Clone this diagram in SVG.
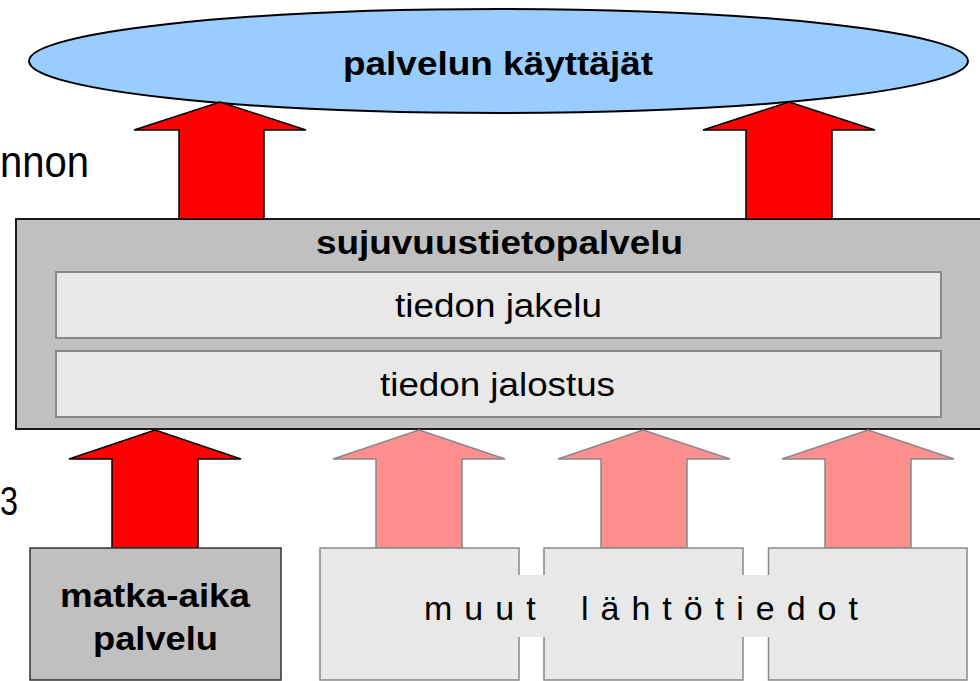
<svg xmlns="http://www.w3.org/2000/svg" width="980" height="681" viewBox="0 0 980 681">
<style>
text{font-family:"Liberation Sans",Arial,sans-serif;fill:#000}
.b{font-weight:bold}
.red{fill:#ff0000;stroke:#000;stroke-width:1.5}
.pink{fill:#ff8f8f;stroke:#888;stroke-width:1.5}
.inner{fill:#e8e8e8;stroke:#888;stroke-width:2}
.src{fill:#e8e8e8;stroke:#888;stroke-width:1.5}
</style>
<rect width="980" height="681" fill="#fff"/>
<text x="0" y="177" font-size="44" textLength="89" lengthAdjust="spacingAndGlyphs">nnon</text>
<text x="0" y="515" font-size="40" textLength="18" lengthAdjust="spacingAndGlyphs">3</text>
<g id="users">
<ellipse cx="498.5" cy="61" rx="469.5" ry="52" fill="#99ccff" stroke="#000" stroke-width="2"/>
<text class="b" x="498" y="75" font-size="34" text-anchor="middle" textLength="310" lengthAdjust="spacingAndGlyphs">palvelun käyttäjät</text>
</g>
<g id="service">
<rect x="16" y="219" width="975" height="210" fill="#c0c0c0" stroke="#1a1a1a" stroke-width="2"/>
<text class="b" x="499.5" y="254" font-size="33" text-anchor="middle" textLength="367" lengthAdjust="spacingAndGlyphs">sujuvuustietopalvelu</text>
</g>
<g id="jakelu">
<rect class="inner" x="56" y="272" width="885" height="66"/>
<text x="498.5" y="317" font-size="34" text-anchor="middle" textLength="207" lengthAdjust="spacingAndGlyphs">tiedon jakelu</text>
</g>
<g id="jalostus">
<rect class="inner" x="56" y="351" width="885" height="66"/>
<text x="497.5" y="396" font-size="34" text-anchor="middle" textLength="235" lengthAdjust="spacingAndGlyphs">tiedon jalostus</text>
</g>
<g id="connectors">
<polygon class="red" points="220,102 306,130 264,130 264,219 179,219 179,130 134,130"/>
<polygon class="red" points="789,102 875,130 832,130 832,219 746,219 746,130 703,130"/>
<polygon class="red" points="155,430 241,459 198,459 198,548 112,548 112,459 69,459"/>
<polygon class="pink" points="419,430 505,459 462,459 462,548 376,548 376,459 333,459"/>
<polygon class="pink" points="643,430 730,459 687,459 687,548 601,548 601,459 558,459"/>
<polygon class="pink" points="868,430 954,459 911,459 911,548 825,548 825,459 782,459"/>
</g>
<g id="matka-aika">
<rect x="30" y="548" width="251" height="132" fill="#c0c0c0" stroke="#333" stroke-width="1.5"/>
<text class="b" x="155" y="607" font-size="33" text-anchor="middle" textLength="190" lengthAdjust="spacingAndGlyphs">matka-aika</text>
<text class="b" x="155.5" y="650" font-size="33" text-anchor="middle" textLength="125" lengthAdjust="spacingAndGlyphs">palvelu</text>
</g>
<g id="sources">
<rect class="src" x="320" y="548" width="199" height="132"/>
<rect class="src" x="544" y="548" width="199" height="132"/>
<rect class="src" x="768.5" y="548" width="198.5" height="132"/>
<rect x="410" y="575" width="360" height="62" fill="#e8e8e8"/>
<text font-size="34" letter-spacing="12"><tspan x="424" y="620">muut</tspan><tspan x="581" y="620">lähtötiedot</tspan></text>
</g>
</svg>
